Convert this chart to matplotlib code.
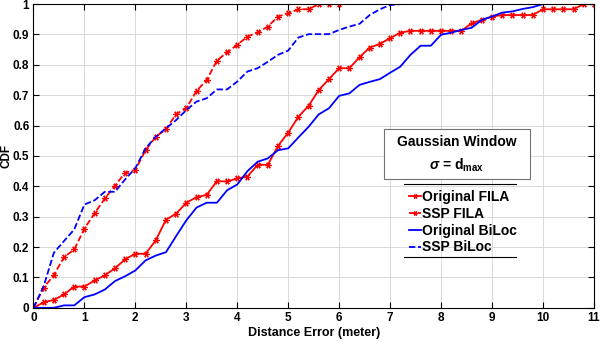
import numpy as np
import matplotlib.pyplot as plt
from matplotlib.lines import Line2D
from matplotlib.patches import Rectangle

plt.rcParams['font.family'] = ['Liberation Sans', 'DejaVu Sans']
plt.rcParams['font.weight'] = 'bold'
plt.rcParams['axes.labelweight'] = 'bold'
plt.rcParams['mathtext.fontset'] = 'custom'
plt.rcParams['mathtext.rm'] = 'Liberation Sans:bold'
plt.rcParams['mathtext.bf'] = 'Liberation Sans:bold'
plt.rcParams['mathtext.it'] = 'Liberation Sans:italic'

# distance grid (meter), one sample every 0.2 m
dist = [0.0, 0.2, 0.4, 0.6, 0.8, 1.0, 1.2, 1.4, 1.6, 1.8,
        2.0, 2.2, 2.4, 2.6, 2.8, 3.0, 3.2, 3.4, 3.6, 3.8,
        4.0, 4.2, 4.4, 4.6, 4.8, 5.0, 5.2, 5.4, 5.6, 5.8,
        6.0, 6.2, 6.4, 6.6, 6.8, 7.0, 7.2, 7.4, 7.6, 7.8,
        8.0, 8.2, 8.4, 8.6, 8.8, 9.0, 9.2, 9.4, 9.6, 9.8,
        10.0, 10.2, 10.4, 10.6, 10.8, 11.0]

orig_fila = [0, 0.018, 0.026, 0.044, 0.07, 0.07, 0.09, 0.107, 0.13, 0.16,
             0.178, 0.178, 0.222, 0.29, 0.31, 0.346, 0.364, 0.372, 0.417, 0.416,
             0.426, 0.432, 0.471, 0.471, 0.533, 0.577, 0.629, 0.665, 0.717, 0.753,
             0.789, 0.789, 0.825, 0.857, 0.869, 0.888, 0.906, 0.912, 0.912, 0.912,
             0.912, 0.912, 0.912, 0.937, 0.948, 0.959, 0.964, 0.964, 0.964, 0.964,
             0.983, 0.983, 0.983, 0.983, 1.0, 1.0]

ssp_fila = [0, 0.066, 0.108, 0.167, 0.192, 0.261, 0.311, 0.36, 0.402, 0.445,
            0.454, 0.519, 0.563, 0.588, 0.638, 0.657, 0.714, 0.75, 0.814, 0.841,
            0.866, 0.893, 0.907, 0.926, 0.959, 0.97, 0.983, 0.983, 1.0, 1.0,
            1.0]

orig_biloc = [0, 0, 0, 0.008, 0.008, 0.035, 0.044, 0.06, 0.088, 0.104,
              0.123, 0.156, 0.172, 0.183, 0.236, 0.288, 0.33, 0.346, 0.346, 0.387,
              0.406, 0.45, 0.481, 0.492, 0.519, 0.525, 0.561, 0.596, 0.637, 0.657,
              0.698, 0.706, 0.734, 0.744, 0.753, 0.774, 0.794, 0.833, 0.863, 0.863,
              0.899, 0.906, 0.915, 0.922, 0.948, 0.959, 0.972, 0.976, 0.984, 0.99,
              1.0, 1.0, 1.0]

ssp_biloc = [0, 0.071, 0.181, 0.22, 0.258, 0.34, 0.354, 0.382, 0.382, 0.423,
             0.46, 0.525, 0.563, 0.591, 0.618, 0.651, 0.679, 0.69, 0.719, 0.719,
             0.745, 0.778, 0.789, 0.81, 0.833, 0.847, 0.89, 0.901, 0.901, 0.901,
             0.915, 0.926, 0.935, 0.964, 0.983, 0.997, 1.0, 1.0]

xticks = list(range(0, 12))
yticks = [0, 0.1, 0.2, 0.3, 0.4, 0.5, 0.6, 0.7, 0.8, 0.9, 1]
ylabels = ['0', '0.1', '0.2', '0.3', '0.4', '0.5', '0.6', '0.7', '0.8', '0.9', '1']

fig = plt.figure(figsize=(6, 3.42), dpi=100)
ax = fig.add_axes([0.0558, 0.100, 0.934, 0.888])

star = (6, 2, 90)
dash = (0, (3.5, 1.5))
ax.plot(dist[:len(orig_fila)], orig_fila, color='red', lw=1.3,
        marker=star, ms=4.5, mew=0.9, label='Original FILA')
ax.plot(dist[:len(ssp_fila)], ssp_fila, color='red', lw=1.3, ls=dash,
        marker=star, ms=4.5, mew=0.9, label='SSP FILA')
ax.plot(dist[:len(orig_biloc)], orig_biloc, color='blue', lw=1.3,
        label='Original BiLoc')
ax.plot(dist[:len(ssp_biloc)], ssp_biloc, color='blue', lw=1.3, ls=dash,
        label='SSP BiLoc')

ax.set_xlim(0, 11)
ax.set_ylim(0, 1)
ax.set_xticks(xticks)
ax.set_yticks(yticks)
ax.set_yticklabels(ylabels)
ax.tick_params(direction='in', length=4, width=0.8, labelsize=8.5,
               top=True, right=True, pad=3)
ax.grid(True, color='0.85', lw=0.7)
ax.set_axisbelow(True)
for s in ax.spines.values():
    s.set_linewidth(0.8)

ax.set_xlabel('Distance Error (meter)', fontsize=9, labelpad=2)
ax.set_ylabel('CDF', fontsize=8.5)
ax.yaxis.set_label_coords(-0.037, 0.5)

# annotation box
fig.add_artist(Rectangle((384 / 600, 1 - 179 / 342), 146 / 600, 50 / 342,
                         transform=fig.transFigure, fc='white', ec='0.45',
                         lw=0.8, zorder=5))
fig.text(457 / 600, 1 - 142 / 342, 'Gaussian Window', ha='center',
         va='center', fontsize=10, zorder=6)
fig.text(457 / 600, 1 - 165 / 342, r'$\mathit{\sigma}$ = d$_{\mathbf{max}}$',
         ha='center', va='center', fontsize=10, zorder=6)

leg = ax.legend(loc='upper left', bbox_to_anchor=(400 / 600, 1 - 181 / 342),
                bbox_transform=fig.transFigure, frameon=False, fontsize=10,
                handlelength=0.85, handletextpad=0.1, labelspacing=0.2,
                borderpad=0.15, markerscale=0.7)
fig.add_artist(Line2D([404 / 600, 516 / 600], [1 - 184 / 342, 1 - 184 / 342],
                      color='black', lw=0.8))
fig.add_artist(Line2D([404 / 600, 516 / 600], [1 - 257 / 342, 1 - 257 / 342],
                      color='black', lw=0.8))

fig.savefig('out.png', dpi=100)
